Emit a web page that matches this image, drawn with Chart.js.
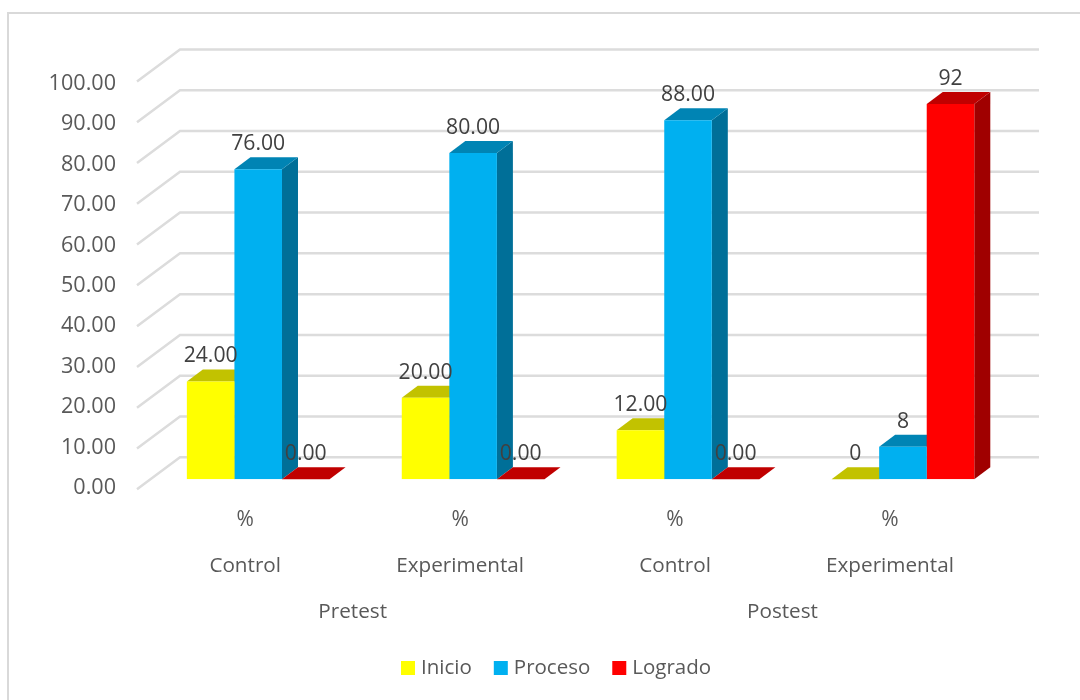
<!DOCTYPE html>
<html>
<head>
<meta charset="utf-8">
<title>Pretest / Postest</title>
<script src="https://cdn.jsdelivr.net/npm/chart.js@4"></script>
<style>
  html, body { margin: 0; padding: 0; background: #fff; }
  #wrap { width: 1080px; height: 700px; position: relative; }
</style>
</head>
<body>
<div id="wrap"><canvas id="chart" width="1080" height="700"></canvas></div>
<script>
// chart values
const categories = ['%', '%', '%', '%'];
const subGroups = ['Control', 'Experimental', 'Control', 'Experimental'];
const phases = ['Pretest', 'Postest'];
const seriesNames = ['Inicio', 'Proceso', 'Logrado'];
const inicio = [24, 20, 12, 0];
const proceso = [76, 80, 88, 8];
const logrado = [0, 0, 0, 92];
const inicioLabels = ['24.00', '20.00', '12.00', '0'];
const procesoLabels = ['76.00', '80.00', '88.00', '8'];
const logradoLabels = ['0.00', '0.00', '0.00', '92'];
const yTickLabels = ['0.00', '10.00', '20.00', '30.00', '40.00', '50.00', '60.00', '70.00', '80.00', '90.00', '100.00'];

const FONT = '"Open Sans", "Noto Sans", sans-serif';
const fronts = ['#FFFF00', '#00B0F0', '#FF0000'];
const tops = ['#C2C200', '#0084B4', '#C00000'];
const sides = ['#A6A600', '#006F98', '#A00000'];
const valueLabels = [inicioLabels, procesoLabels, logradoLabels];

// depth of a bar, and how far the back wall / front floor edge sit from the bars
const DEPTH_X = 16, DEPTH_Y = 12;
const WALL_LEFT = 180, WALL_RIGHT = 1039, WALL_DY = 22;
const FLOOR_X = 137, FLOOR_DY = 10;

function text(ctx, str, x, y, size, color, align) {
  ctx.font = size + 'px ' + FONT;
  ctx.fillStyle = color;
  ctx.textAlign = align || 'center';
  ctx.textBaseline = 'middle';
  ctx.fillText(str, x, y);
}

function poly(ctx, color, pts) {
  ctx.fillStyle = color;
  ctx.beginPath();
  pts.forEach((p, i) => i ? ctx.lineTo(p[0], p[1]) : ctx.moveTo(p[0], p[1]));
  ctx.closePath();
  ctx.fill();
}

// frame, gridlines on the wall and floor, tick labels, axis labels, legend
const backdrop = {
  id: 'backdrop',
  beforeDatasetsDraw(chart) {
    const ctx = chart.ctx, y = chart.scales.y, x = chart.scales.x;
    ctx.save();
    ctx.strokeStyle = '#D9D9D9';
    ctx.lineWidth = 2;
    ctx.strokeRect(8, 13, 1090, 700);

    ctx.strokeStyle = '#DCDCDC';
    ctx.lineWidth = 2.5;
    y.ticks.forEach((t, i) => {
      const py = y.getPixelForValue(t.value);
      ctx.beginPath();
      ctx.moveTo(FLOOR_X, py + FLOOR_DY);
      ctx.lineTo(WALL_LEFT, py - WALL_DY);
      ctx.lineTo(WALL_RIGHT, py - WALL_DY);
      ctx.stroke();
      text(ctx, yTickLabels[i], 116, py + 9 + (i / 10) * 3, 21.6, '#595959', 'right');
    });

    categories.forEach((c, i) => {
      const px = x.getPixelForValue(i) - 13;
      text(ctx, c, px, 520, 21, '#595959');
      text(ctx, subGroups[i], px, 566, 20.7, '#595959');
    });
    phases.forEach((p, i) => {
      const px = (x.getPixelForValue(i * 2) + x.getPixelForValue(i * 2 + 1)) / 2 - 13;
      text(ctx, p, px, 612, 20.7, '#595959');
    });

    // legend
    let lx = 401;
    seriesNames.forEach((name, i) => {
      ctx.fillStyle = fronts[i];
      ctx.fillRect(lx, 661, 14, 14);
      text(ctx, name, lx + 20, 668, 20.5, '#595959', 'left');
      lx += 20 + ctx.measureText(name).width + 22;
    });

    // side and top faces go under the front faces Chart.js draws
    chart.data.datasets.forEach((ds, d) => {
      chart.getDatasetMeta(d).data.forEach(bar => {
        const l = bar.x - bar.width / 2, r = bar.x + bar.width / 2;
        const top = bar.y, base = bar.base;
        poly(ctx, sides[d], [[r, top], [r + DEPTH_X, top - DEPTH_Y], [r + DEPTH_X, base - DEPTH_Y], [r, base]]);
        poly(ctx, tops[d], [[l, top], [l + DEPTH_X, top - DEPTH_Y], [r + DEPTH_X, top - DEPTH_Y], [r, top]]);
      });
    });
    ctx.restore();
  },
  afterDatasetsDraw(chart) {
    const ctx = chart.ctx;
    ctx.save();
    chart.data.datasets.forEach((ds, d) => {
      chart.getDatasetMeta(d).data.forEach((bar, i) => {
        text(ctx, valueLabels[d][i], bar.x, bar.y - 25, 21.2, '#404040');
      });
    });
    ctx.restore();
  }
};

new Chart(document.getElementById('chart'), {
  type: 'bar',
  data: {
    labels: categories,
    datasets: [
      { label: seriesNames[0], data: inicio, backgroundColor: fronts[0] },
      { label: seriesNames[1], data: proceso, backgroundColor: fronts[1] },
      { label: seriesNames[2], data: logrado, backgroundColor: fronts[2] }
    ]
  },
  options: {
    responsive: false,
    animation: false,
    layout: { padding: { left: 150.75, right: 69.6, top: 71.4, bottom: 220.7 } },
    datasets: { bar: { categoryPercentage: 0.664, barPercentage: 1 } },
    scales: {
      x: { display: false },
      y: { display: false, min: 0, max: 100, ticks: { stepSize: 10 } }
    },
    plugins: { legend: { display: false }, tooltip: { enabled: false } }
  },
  plugins: [backdrop]
});
</script>
</body>
</html>
